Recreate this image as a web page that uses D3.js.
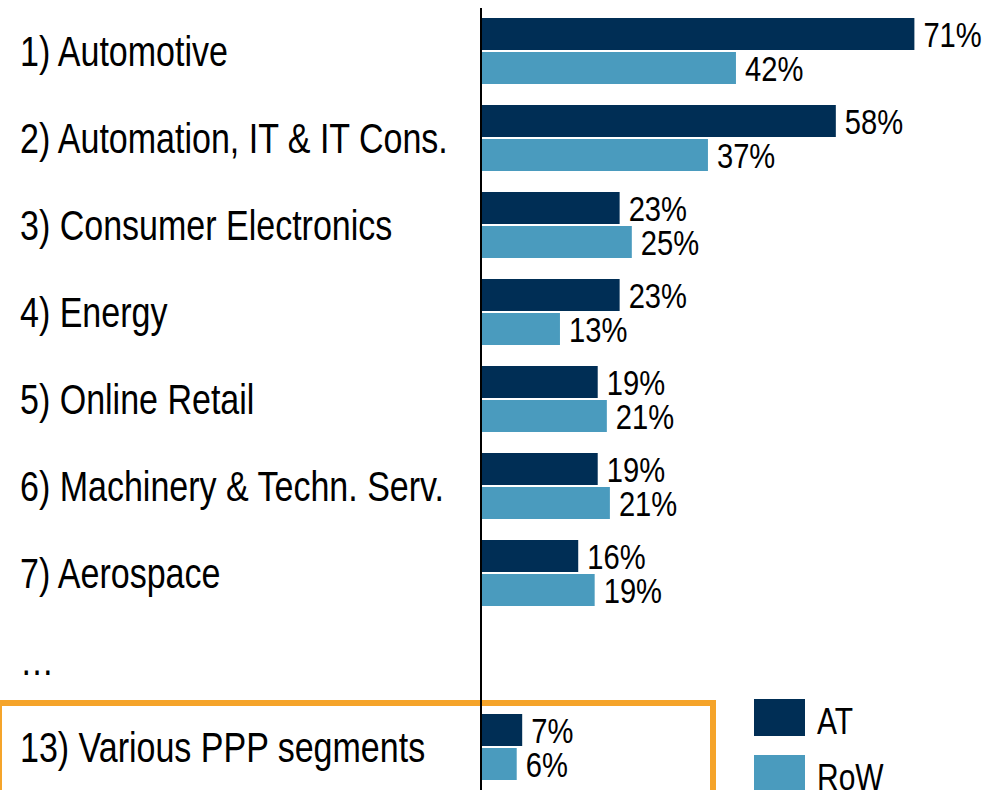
<!DOCTYPE html>
<html>
<head>
<meta charset="utf-8">
<script src="https://cdn.jsdelivr.net/npm/d3@7"></script>
<style>
  html, body { margin: 0; padding: 0; background: #fff; }
  svg text { font-family: "Liberation Sans Narrow", "Arial Narrow", "Liberation Sans", Arial, sans-serif; fill: #000; }
</style>
</head>
<body>
<div id="chart"></div>
<script>
// slot 8 is the "…" gap row, no bars there
var categories = ["1) Automotive", "2) Automation, IT & IT Cons.", "3) Consumer Electronics", "4) Energy",
  "5) Online Retail", "6) Machinery & Techn. Serv.", "7) Aerospace", "…", "13) Various PPP segments"];
var atValues  = [71.0, 58.1, 22.6, 22.6, 19.0, 19.0, 15.8, null, 6.6];
var rowValues = [41.7, 37.1, 24.6, 12.8, 20.5, 21.0, 18.5, null, 5.7];
var seriesNames = ["AT", "RoW"];
var colors = { AT: "#002e55", RoW: "#4a9bbe" };

var width = 988, height = 790;
var narrow = 0.81; // no narrow font installed, squeeze the regular one

var svg = d3.select("#chart").append("svg")
    .attr("width", width).attr("height", height);

var x = d3.scaleLinear().domain([0, 100]).range([482, 1091]);
var y = d3.scaleBand().domain(categories).range([18, 780]).paddingInner(21 / 87).paddingOuter(0);
var barH = 32, barGap = 2;
var fmt = function(v) { return Math.round(v) + "%"; };

function place(px, py) { return "translate(" + px + "," + py + ") scale(" + narrow + ",1)"; }

// highlight box round the last row
var last = categories[categories.length - 1];
svg.append("rect")
    .attr("x", -1).attr("y", y(last) - 11)
    .attr("width", 714).attr("height", 120)
    .attr("fill", "none").attr("stroke", "#f5a42a").attr("stroke-width", 6);

var rows = categories.map(function(c, i) {
  return { cat: c, AT: atValues[i], RoW: rowValues[i] };
});

var bars = [];
rows.forEach(function(r) {
  seriesNames.forEach(function(s, j) {
    if (r[s] == null) return;
    bars.push({ cat: r.cat, series: s, value: r[s], offset: j * (barH + barGap) });
  });
});

svg.append("g").selectAll("rect")
    .data(bars)
    .enter().append("rect")
      .attr("x", x(0))
      .attr("y", function(d) { return y(d.cat) + d.offset; })
      .attr("width", function(d) { return x(d.value) - x(0); })
      .attr("height", barH)
      .attr("fill", function(d) { return colors[d.series]; });

svg.append("g").selectAll("text")
    .data(bars)
    .enter().append("text")
      .attr("transform", function(d) { return place(x(d.value) + 9, y(d.cat) + d.offset + barH / 2 + 13); })
      .style("font-size", "36px")
      .text(function(d) { return fmt(d.value); });

svg.append("g").selectAll("text")
    .data(categories)
    .enter().append("text")
      .attr("transform", function(d) { return place(20, y(d) + y.bandwidth() / 2 + 15); })
      .style("font-size", "42px")
      .text(function(d) { return d; });

// vertical axis line
svg.append("line")
    .attr("x1", 481).attr("x2", 481)
    .attr("y1", 8).attr("y2", height)
    .attr("stroke", "#000").attr("stroke-width", 2);

// legend
var legend = svg.append("g").selectAll("g")
    .data(seriesNames)
    .enter().append("g")
      .attr("transform", function(d, i) { return "translate(754," + (699 + i * 56) + ")"; });
legend.append("rect")
    .attr("width", 51).attr("height", 37)
    .attr("fill", function(d) { return colors[d]; });
legend.append("text")
    .attr("transform", place(63, 35))
    .style("font-size", "37px")
    .text(function(d) { return d; });
</script>
</body>
</html>
